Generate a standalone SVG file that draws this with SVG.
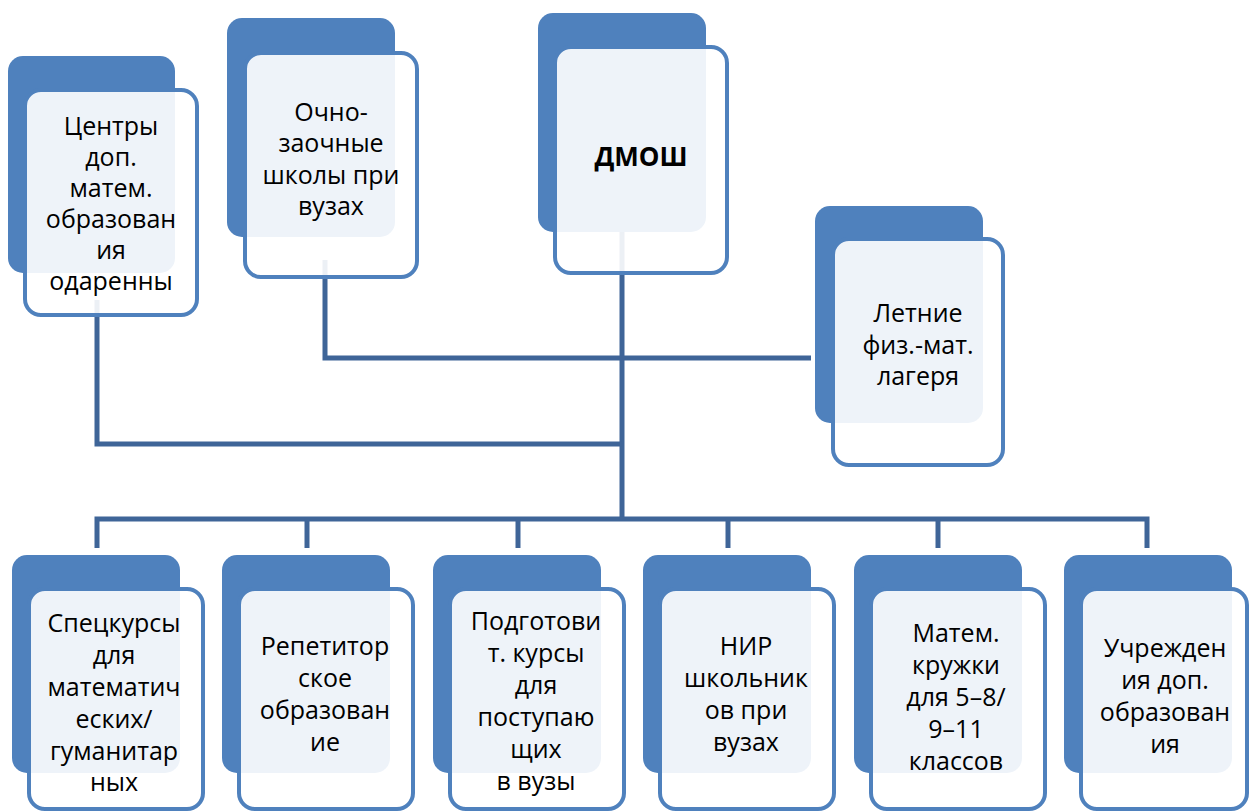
<svg xmlns="http://www.w3.org/2000/svg" width="1251" height="812" viewBox="0 0 1251 812">
  <style>
    .back { fill: #4F81BD; }
    .front { fill: #FFFFFF; fill-opacity: 0.9; stroke: #4F81BD; stroke-width: 4; }
    .link { fill: none; stroke: #3F6598; stroke-width: 5; stroke-linejoin: miter; }
    .lbl { font-family: "Open Sans", "Noto Sans", sans-serif; font-size: 25px; fill: #000; text-anchor: middle; }
    .bold { font-weight: bold; font-size: 26px; }
  </style>
  <rect width="1251" height="812" fill="#FFFFFF"/>

  <!-- connectors, drawn under the cards -->
  <g id="connectors">
    <path class="link" d="M622 200 V519"/>
    <path class="link" d="M97 300 V444 H622"/>
    <path class="link" d="M325 260 V358 H811"/>
    <path class="link" d="M97 548 V519 H1147 V548"/>
    <path class="link" d="M307 519 V548"/>
    <path class="link" d="M518 519 V548"/>
    <path class="link" d="M728 519 V548"/>
    <path class="link" d="M938 519 V548"/>
  </g>

  <!-- top tier -->
  <g id="n-centers">
    <rect class="back" x="8" y="56" width="167" height="217" rx="15"/>
    <rect class="front" x="25" y="90" width="172" height="225" rx="16"/>
    <text class="lbl"><tspan x="111" y="135">Центры</tspan><tspan x="111" y="166">доп.</tspan><tspan x="111" y="197">матем.</tspan><tspan x="111" y="228">образован</tspan><tspan x="111" y="259">ия</tspan><tspan x="111" y="290">одаренны</tspan></text>
  </g>

  <g id="n-schools">
    <rect class="back" x="227" y="18" width="168" height="219" rx="15"/>
    <rect class="front" x="245" y="53" width="172" height="224" rx="16"/>
    <text class="lbl"><tspan x="331" y="121">Очно-</tspan><tspan x="331" y="152">заочные</tspan><tspan x="331" y="184">школы при</tspan><tspan x="331" y="215">вузах</tspan></text>
  </g>

  <g id="n-dmosh">
    <rect class="back" x="538" y="13" width="168" height="219" rx="15"/>
    <rect class="front" x="555" y="47" width="172" height="226" rx="16"/>
    <text class="lbl bold" x="641" y="166">ДМОШ</text>
  </g>

  <g id="n-camps">
    <rect class="back" x="815" y="206" width="168" height="217" rx="15"/>
    <rect class="front" x="833" y="239" width="170" height="226" rx="16"/>
    <text class="lbl"><tspan x="918" y="322">Летние</tspan><tspan x="918" y="354">физ.-мат.</tspan><tspan x="918" y="385">лагеря</tspan></text>
  </g>

  <!-- bottom tier -->
  <g id="n-special">
    <rect class="back" x="12" y="555" width="168" height="218" rx="15"/>
    <rect class="front" x="29" y="589" width="174" height="220" rx="16"/>
    <text class="lbl"><tspan x="114" y="632">Спецкурсы</tspan><tspan x="114" y="664">для</tspan><tspan x="114" y="696">математич</tspan><tspan x="114" y="728">еских/</tspan><tspan x="114" y="760">гуманитар</tspan><tspan x="114" y="791">ных</tspan></text>
  </g>

  <g id="n-tutor">
    <rect class="back" x="222" y="555" width="168" height="218" rx="15"/>
    <rect class="front" x="239" y="589" width="174" height="220" rx="16"/>
    <text class="lbl"><tspan x="325" y="655">Репетитор</tspan><tspan x="325" y="687">ское</tspan><tspan x="325" y="719">образован</tspan><tspan x="325" y="751">ие</tspan></text>
  </g>

  <g id="n-prep">
    <rect class="back" x="433" y="555" width="168" height="218" rx="15"/>
    <rect class="front" x="450" y="589" width="174" height="220" rx="16"/>
    <text class="lbl"><tspan x="536" y="630">Подготови</tspan><tspan x="536" y="662">т. курсы</tspan><tspan x="536" y="694">для</tspan><tspan x="536" y="726">поступаю</tspan><tspan x="536" y="758">щих</tspan><tspan x="536" y="790">в вузы</tspan></text>
  </g>

  <g id="n-research">
    <rect class="back" x="643" y="555" width="168" height="218" rx="15"/>
    <rect class="front" x="660" y="589" width="174" height="220" rx="16"/>
    <text class="lbl"><tspan x="746" y="655">НИР</tspan><tspan x="746" y="687">школьник</tspan><tspan x="746" y="719">ов при</tspan><tspan x="746" y="751">вузах</tspan></text>
  </g>

  <g id="n-circles">
    <rect class="back" x="854" y="555" width="168" height="218" rx="15"/>
    <rect class="front" x="871" y="589" width="174" height="220" rx="16"/>
    <text class="lbl"><tspan x="956" y="642">Матем.</tspan><tspan x="956" y="674">кружки</tspan><tspan x="956" y="706">для 5–8/</tspan><tspan x="956" y="738">9–11</tspan><tspan x="956" y="770">классов</tspan></text>
  </g>

  <g id="n-institutions">
    <rect class="back" x="1064" y="555" width="168" height="218" rx="15"/>
    <rect class="front" x="1081" y="589" width="166" height="220" rx="16"/>
    <text class="lbl"><tspan x="1165" y="657">Учрежден</tspan><tspan x="1165" y="689">ия доп.</tspan><tspan x="1165" y="721">образован</tspan><tspan x="1165" y="753">ия</tspan></text>
  </g>
</svg>
